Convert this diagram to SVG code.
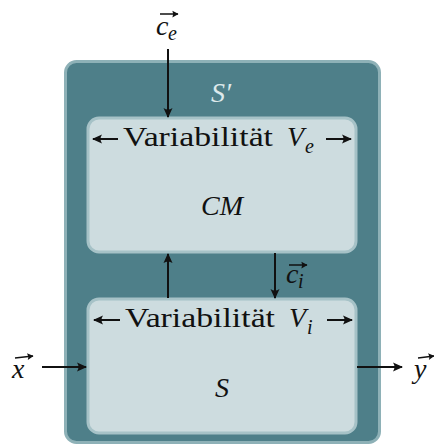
<svg xmlns="http://www.w3.org/2000/svg" width="434" height="444" viewBox="0 0 434 444">
<defs>
<marker id="ah" markerUnits="userSpaceOnUse" markerWidth="12" markerHeight="12" viewBox="-10 -6 12 12" refX="0" refY="0" orient="auto">
<path d="M1,0 L-9,-4.5 Q-6,0 -9,4.5 Z" fill="#111"/>
</marker>
<marker id="va" markerUnits="userSpaceOnUse" markerWidth="9" markerHeight="9" viewBox="-6 -4 8 8" refX="0" refY="0" orient="auto">
<path d="M0.5,0 L-5,-3 Q-3.5,0 -5,3 Z" fill="#111"/>
</marker>
</defs>
<style>
.outer{fill:#4e7f89;stroke:#8eb1b7;stroke-width:3}
.inner{fill:#cddcdf;stroke:#a6c2c7;stroke-width:3}
.ln{stroke:#111;stroke-width:2;fill:none;marker-end:url(#ah)}
.vec{stroke:#111;stroke-width:1.5;fill:none;marker-end:url(#va)}
</style>
<g id="outer">
<rect class="outer" x="65.5" y="61.5" width="314" height="381" rx="11"/>
<text x="211" y="102" font-family="Liberation Serif, serif" font-size="28" font-style="italic" fill="#dde9eb">S′</text>
</g>
<g id="cm" font-family="Liberation Serif, serif" font-size="28" fill="#111">
<rect class="inner" x="88" y="118" width="268" height="134" rx="11"/>
<text x="123" y="146" textLength="150" lengthAdjust="spacingAndGlyphs">Variabilität</text>
<text x="287" y="146" font-style="italic">V</text>
<text x="305" y="153" font-size="20" font-style="italic">e</text>
<text x="222" y="215" text-anchor="middle" font-style="italic">CM</text>
</g>
<g id="s" font-family="Liberation Serif, serif" font-size="28" fill="#111">
<rect class="inner" x="88" y="299" width="268" height="134" rx="11"/>
<text x="125" y="327" textLength="150" lengthAdjust="spacingAndGlyphs">Variabilität</text>
<text x="289" y="327" font-style="italic">V</text>
<text x="307" y="334" font-size="20" font-style="italic">i</text>
<text x="222" y="397" text-anchor="middle" font-style="italic">S</text>
</g>
<g id="labels" font-family="Liberation Serif, serif" font-size="28" font-style="italic" fill="#111">
<text x="156" y="35">c</text>
<text x="168" y="40" font-size="20">e</text>
<text x="286" y="283">c</text>
<text x="298" y="288" font-size="20">i</text>
<text x="12" y="378">x</text>
<text x="414" y="378">y</text>
</g>
<g id="connectors">
<line class="ln" x1="168" y1="49" x2="168" y2="117"/>
<line class="ln" x1="168" y1="298" x2="168" y2="254"/>
<line class="ln" x1="275" y1="253" x2="275" y2="298"/>
<line class="ln" x1="42" y1="367" x2="86" y2="367"/>
<line class="ln" x1="357" y1="367" x2="402" y2="367"/>
<line class="ln" x1="118" y1="139" x2="93" y2="139"/>
<line class="ln" x1="326" y1="139" x2="351" y2="139"/>
<line class="ln" x1="120" y1="320" x2="94" y2="320"/>
<line class="ln" x1="327" y1="320" x2="352" y2="320"/>
<line class="vec" x1="160" y1="14" x2="178" y2="14"/>
<line class="vec" x1="289" y1="265" x2="307" y2="265"/>
<line class="vec" x1="15" y1="358" x2="33" y2="356"/>
<line class="vec" x1="418" y1="358" x2="434" y2="356"/>
</g>
</svg>
